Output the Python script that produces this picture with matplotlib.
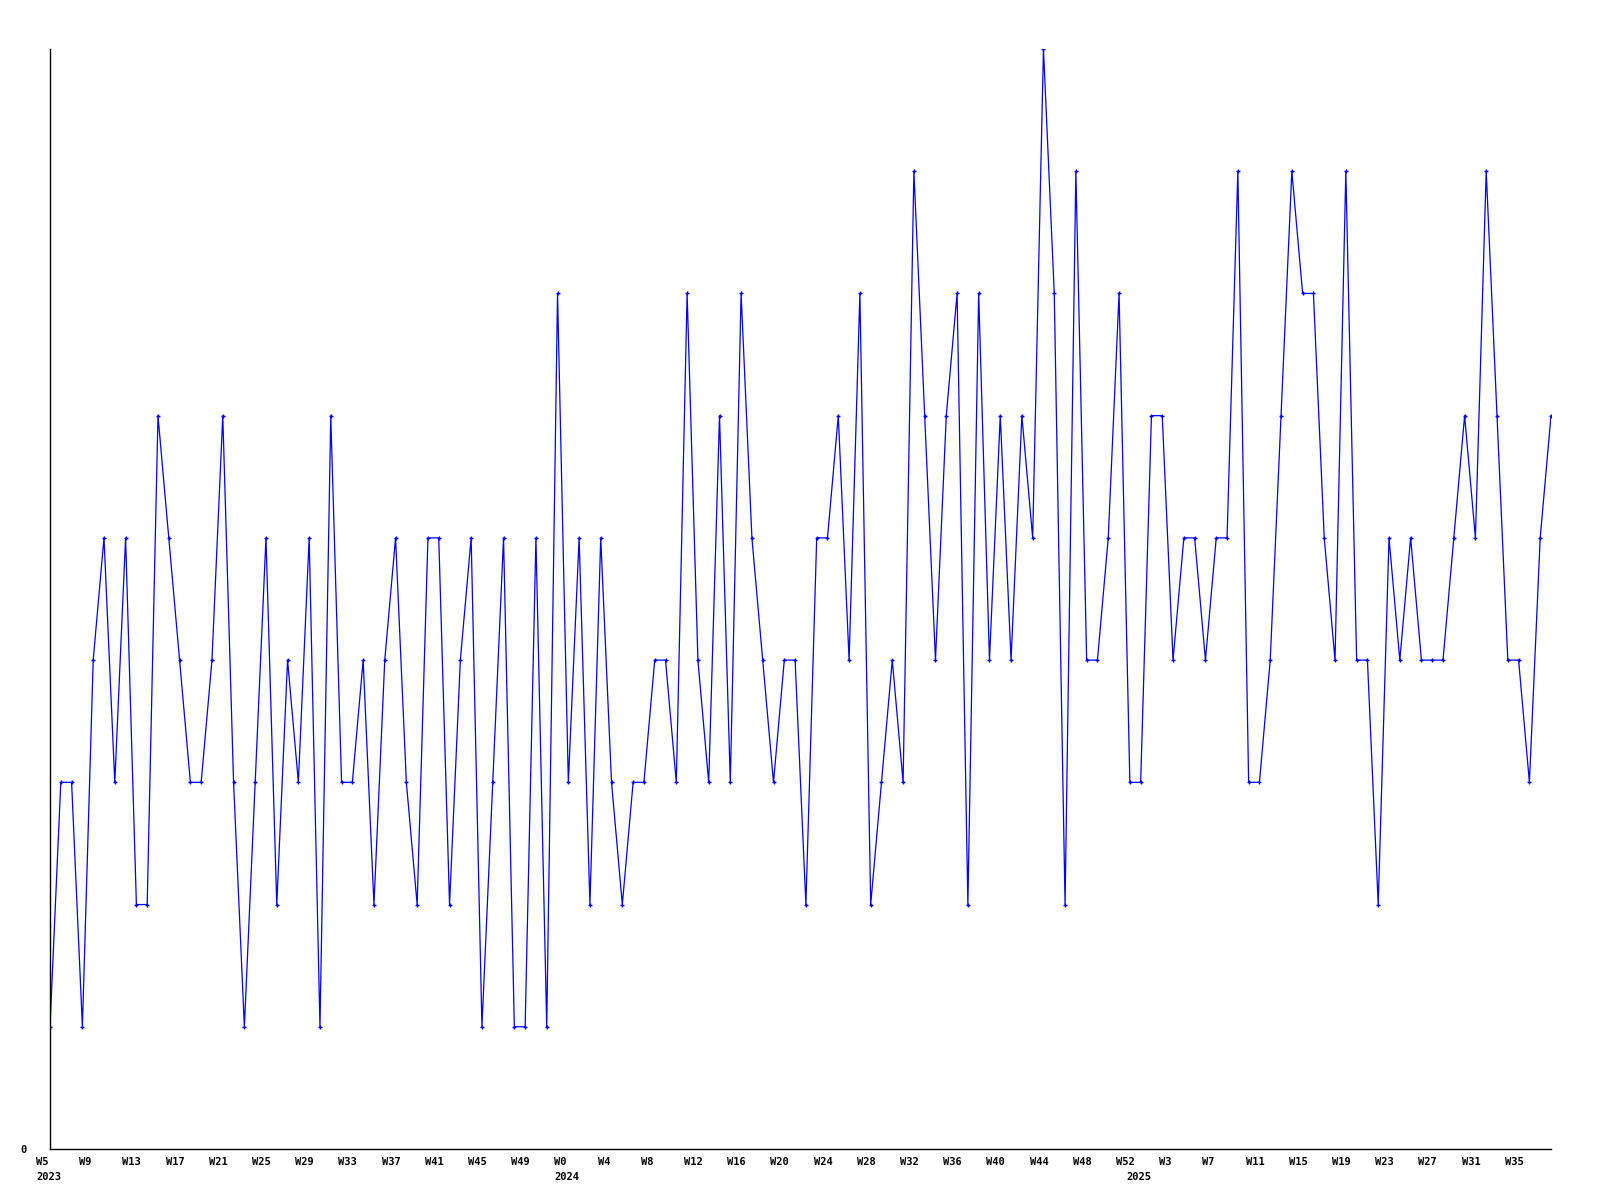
import matplotlib
matplotlib.use('Agg')

import matplotlib.pyplot as plt
import matplotlib.transforms as mtransforms
import numpy as np

# Weekly values, 2023 W5 .. 2025 W38
values = [
    1, 3, 3, 1, 4, 5, 3, 5, 2, 2, 6, 5, 4, 3, 3, 4, 6, 3, 1, 3,
    5, 2, 4, 3, 5, 1, 6, 3, 3, 4, 2, 4, 5, 3, 2, 5, 5, 2, 4, 5,
    1, 3, 5, 1, 1, 5, 1, 7, 3, 5, 2, 5, 3, 2, 3, 3, 4, 4, 3, 7,
    4, 3, 6, 3, 7, 5, 4, 3, 4, 4, 2, 5, 5, 6, 4, 7, 2, 3, 4, 3,
    8, 6, 4, 6, 7, 2, 7, 4, 6, 4, 6, 5, 9, 7, 2, 8, 4, 4, 5, 7,
    3, 3, 6, 6, 4, 5, 5, 4, 5, 5, 8, 3, 3, 4, 6, 8, 7, 7, 5, 4,
    8, 4, 4, 2, 5, 4, 5, 4, 4, 4, 5, 6, 5, 8, 6, 4, 4, 3, 5, 6,
]

# x tick labels (every 4th week) and their point index
week_ticks = list(range(0, 48, 4)) + list(range(48, 101, 4)) + list(range(104, 137, 4))
week_labels = (['W%d' % w for w in range(5, 50, 4)] +
               ['W%d' % w for w in range(0, 53, 4)] +
               ['W%d' % w for w in range(3, 36, 4)])
year_ticks = [0, 48, 101]
year_labels = ['2023', '2024', '2025']

DPI = 100
fig = plt.figure(figsize=(16, 12))
ax = fig.add_axes([50 / 1600., 1 - 1149 / 1200., 1501 / 1600., 1100 / 1200.])

x = np.arange(len(values))
ax.plot(x, values, color='#0000ff', lw=0.9, marker='+', ms=3.5, mew=1.0)

ax.set_xlim(0, len(values) - 1)
ax.set_ylim(0, 9)

for side in ['top', 'right']:
    ax.spines[side].set_visible(False)
for side in ['left', 'bottom']:
    ax.spines[side].set_linewidth(1.0)
    ax.spines[side].set_color('black')

font = dict(family='DejaVu Sans Mono', weight='bold', size=7.5)

ax.set_yticks([0])
ax.set_yticklabels(['0'], **font)
ax.tick_params(axis='y', length=0, pad=17)

# year labels sit under week ticks, keep both
ax.xaxis.remove_overlapping_locs = False
ax.set_xticks(week_ticks)
ax.set_xticklabels(week_labels, ha='left', **font)
ax.set_xticks(year_ticks, minor=True)
ax.set_xticklabels(year_labels, minor=True, ha='left', **font)
ax.tick_params(axis='x', which='major', length=0, pad=6)
ax.tick_params(axis='x', which='minor', length=0, pad=16.5)

# labels start a little left of their week
offset = mtransforms.ScaledTranslation(-10 / 72., 0, fig.dpi_scale_trans)
for lab in ax.get_xticklabels() + ax.get_xticklabels(minor=True):
    lab.set_transform(lab.get_transform() + offset)

plt.savefig('out.png', dpi=DPI)
